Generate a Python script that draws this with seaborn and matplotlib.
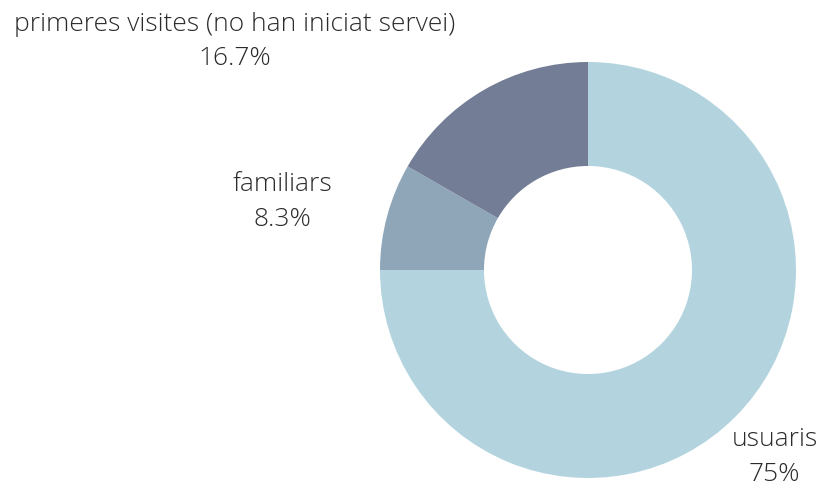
import numpy as np
import matplotlib
matplotlib.use("Agg")
import matplotlib.pyplot as plt
import seaborn as sns

# Data
labels = ["usuaris", "familiars", "primeres visites (no han iniciat servei)"]
pct_labels = ["75%", "8.3%", "16.7%"]
values = [75.0, 8.3, 16.7]
colors = ["#b3d4df", "#8fa6b9", "#737d95"]

sns.set_theme(style="white")
plt.rcParams['font.family'] = ['Open Sans', 'DejaVu Sans']

fig = plt.figure(figsize=(8.21, 4.86), dpi=100)
W, H = 821, 486
cx, cy, r = 588, 486 - 270, 208
ax = fig.add_axes([(cx - r) / W, (cy - r) / H, 2 * r / W, 2 * r / H])

wedges, _ = ax.pie(values, colors=colors, startangle=90, counterclock=False,
                   radius=1, wedgeprops=dict(width=0.5, linewidth=0))
ax.set_xlim(-1, 1)
ax.set_ylim(-1, 1)
ax.set_aspect('equal')
ax.axis('off')

# outside labels at the wedge mid angle
for w, lab, pct in zip(wedges, labels, pct_labels):
    ang = np.deg2rad((w.theta1 + w.theta2) / 2)
    x, y = 1.27 * np.cos(ang), 1.27 * np.sin(ang)
    ha = 'right' if x < 0 else 'center'
    ax.text(x, y, lab + "\n" + pct, ha=ha, va='center', multialignment='center',
            fontsize=19, fontweight='light', color='#2b2b2b', linespacing=1.5,
            clip_on=False)

fig.savefig("out.png", dpi=100)
